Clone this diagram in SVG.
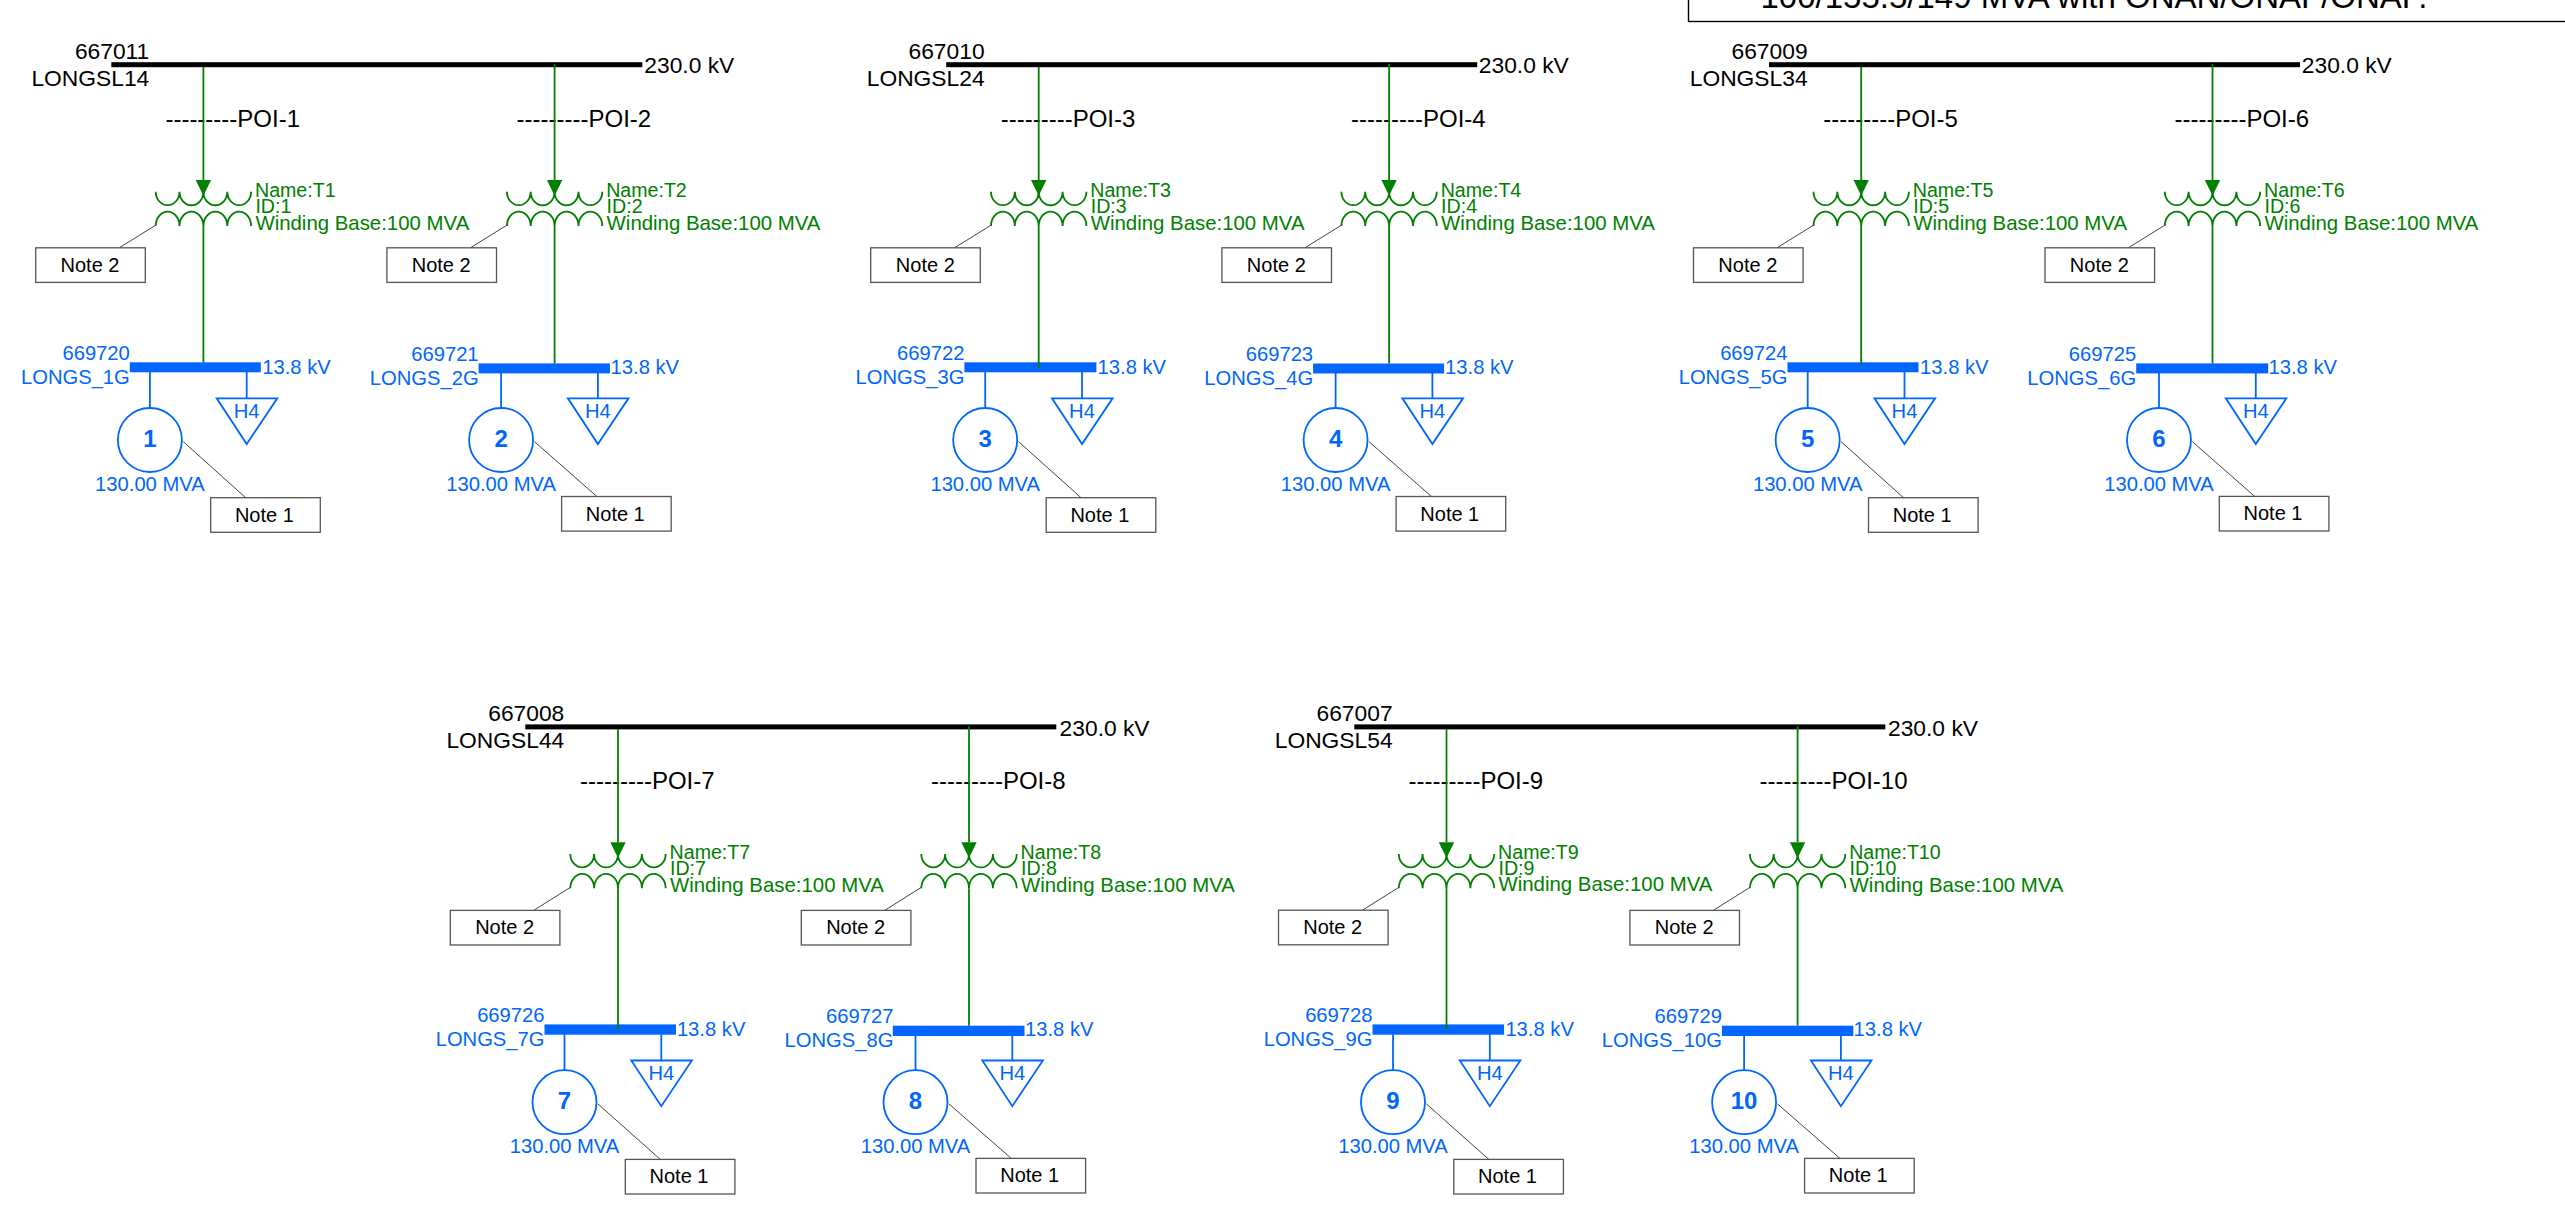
<svg xmlns="http://www.w3.org/2000/svg" width="2565" height="1230" viewBox="0 0 2565 1230">
<style>
text{font-family:"Liberation Sans",Arial,sans-serif;font-size:20px}
.k{fill:#000}
.big{font-size:22.8px;fill:#000}
.poi{font-size:24px;fill:#000}
.e{text-anchor:end}
.m{text-anchor:middle}
.tg{fill:#008000;font-size:19.6px}
.tg:last-child{font-size:20.4px}
.tb{fill:#0066ff;font-size:20.2px}
.num{font-size:24px;font-weight:bold;fill:#0066ff;text-anchor:middle}
.lv{fill:#0066ff}
.note{fill:#fff;stroke:#555;stroke-width:1.3}
.wind{fill:none;stroke:#008000;stroke-width:1.8}
.gen,.load{fill:#fff;stroke:#0066ff;stroke-width:1.8}
line{fill:none}
.cg{stroke:#008000;stroke-width:1.8}
.ca{stroke:#008000;stroke-width:1.8;marker-end:url(#ah)}
.cb{stroke:#0066ff;stroke-width:1.8}
.cl{stroke:#444;stroke-width:1}
</style>
<defs>
<marker id="ah" markerUnits="userSpaceOnUse" markerWidth="16" markerHeight="16" viewBox="0 0 16 16" refX="8" refY="0" orient="auto-start-reverse" overflow="visible"><path d="M0.3 0H15.7L8 15.7Z" fill="#008000" transform="rotate(-90 8 0) translate(0,0)"/></marker>
<path id="xf" class="wind" d="M-47.7 191.7a11.9 13.5 0 0 0 23.8 0a11.9 13.5 0 0 0 23.9 0a11.9 13.5 0 0 0 23.9 0a11.9 13.5 0 0 0 23.8 0M-47.7 226a11.9 14.3 0 0 1 23.8 0a11.9 14.3 0 0 1 23.9 0a11.9 14.3 0 0 1 23.9 0a11.9 14.3 0 0 1 23.8 0"/>
<rect id="nb" class="note" width="109.6" height="34.6"/>
<polygon id="lp" class="load" points="13.3,398.3 73.9,398.3 43.3,444"/>
</defs>
<rect width="2565" height="1230" fill="#fff"/>
<g id="legend-box"><rect x="1688.5" y="-6" width="900" height="27.5" fill="#fff" stroke="#000" stroke-width="1.4"/><text class="k m" x="2094" y="7.5" style="font-size:33px">100/155.5/149 MVA with ONAN/ONAF/ONAF.</text></g>

<g id="bus-667011"><rect x="111.3" y="62.2" width="531" height="5"/><text class="big e" x="149.3" y="58.7">667011</text><text class="big e" x="149.3" y="85.5">LONGSL14</text><text class="big" x="644.3" y="73.3">230.0 kV</text></g>
<g id="bus-667010"><rect x="946.2" y="62.2" width="531" height="5"/><text class="big e" x="984.6" y="58.7">667010</text><text class="big e" x="984.6" y="85.5">LONGSL24</text><text class="big" x="1478.8" y="73.3">230.0 kV</text></g>
<g id="bus-667009"><rect x="1769" y="62.2" width="531" height="5"/><text class="big e" x="1807.6" y="58.7">667009</text><text class="big e" x="1807.6" y="85.5">LONGSL34</text><text class="big" x="2301.8" y="73.3">230.0 kV</text></g>
<g id="bus-667008"><rect x="525.3" y="724.4" width="531" height="5"/><text class="big e" x="564.3" y="720.9">667008</text><text class="big e" x="564.3" y="747.7">LONGSL44</text><text class="big" x="1059.6" y="735.5">230.0 kV</text></g>
<g id="bus-667007"><rect x="1354.3" y="724.4" width="531" height="5"/><text class="big e" x="1392.6" y="720.9">667007</text><text class="big e" x="1392.6" y="747.7">LONGSL54</text><text class="big" x="1888" y="735.5">230.0 kV</text></g>

<g id="poi-1" transform="translate(203.4,0)"><text class="poi" x="-38" y="127">---------POI-1</text></g>
<g id="T1" transform="translate(203.4,0)"><use href="#xf"/><text class="tg" x="51.6" y="196.7">Name:T1</text><text class="tg" x="52" y="213">ID:1</text><text class="tg" x="52" y="230">Winding Base:100 MVA</text></g>
<g id="note2-1" transform="translate(203.4,0)"><use href="#nb" x="-167.7" y="247.8"/><text class="k m" x="-113.4" y="271.7">Note 2</text></g>
<g id="bus-669720" transform="translate(203.4,0)"><rect class="lv" x="-73.6" y="362.3" width="131" height="10"/><text class="tb e" x="-73.6" y="360">669720</text><text class="tb e" x="-73.6" y="384">LONGS_1G</text><text class="tb" x="58.9" y="374.3">13.8 kV</text></g>
<g id="gen-1" transform="translate(203.4,0)"><circle class="gen" cx="-53.5" cy="440" r="32"/><text class="num" x="-53.5" y="447">1</text><text class="tb m" x="-53.5" y="490.7">130.00 MVA</text></g>
<g id="load-1" transform="translate(203.4,0)"><use href="#lp"/><text class="tb m" x="43.3" y="417.7">H4</text></g>
<g id="note1-1" transform="translate(203.4,0)"><use href="#nb" x="7.3" y="497.7"/><text class="k m" x="61" y="521.7">Note 1</text></g>

<g id="poi-2" transform="translate(554.6,0)"><text class="poi" x="-38" y="127">---------POI-2</text></g>
<g id="T2" transform="translate(554.6,0)"><use href="#xf"/><text class="tg" x="51.6" y="196.7">Name:T2</text><text class="tg" x="52" y="213">ID:2</text><text class="tg" x="52" y="230">Winding Base:100 MVA</text></g>
<g id="note2-2" transform="translate(554.6,0)"><use href="#nb" x="-167.7" y="247.8"/><text class="k m" x="-113.4" y="271.7">Note 2</text></g>
<g id="bus-669721" transform="translate(554.6,0)"><rect class="lv" x="-76" y="363.4" width="131.3" height="10"/><text class="tb e" x="-76" y="361">669721</text><text class="tb e" x="-76" y="385">LONGS_2G</text><text class="tb" x="56" y="374.3">13.8 kV</text></g>
<g id="gen-2" transform="translate(554.6,0)"><circle class="gen" cx="-53.5" cy="440" r="32"/><text class="num" x="-53.5" y="447">2</text><text class="tb m" x="-53.5" y="490.7">130.00 MVA</text></g>
<g id="load-2" transform="translate(554.6,0)"><use href="#lp"/><text class="tb m" x="43.3" y="417.7">H4</text></g>
<g id="note1-2" transform="translate(554.6,0)"><use href="#nb" x="7" y="496.5"/><text class="k m" x="60.7" y="520.5">Note 1</text></g>

<g id="poi-3" transform="translate(1038.7,0)"><text class="poi" x="-38" y="127">---------POI-3</text></g>
<g id="T3" transform="translate(1038.7,0)"><use href="#xf"/><text class="tg" x="51.6" y="196.7">Name:T3</text><text class="tg" x="52" y="213">ID:3</text><text class="tg" x="52" y="230">Winding Base:100 MVA</text></g>
<g id="note2-3" transform="translate(1038.7,0)"><use href="#nb" x="-168" y="247.8"/><text class="k m" x="-113.4" y="271.7">Note 2</text></g>
<g id="bus-669722" transform="translate(1038.7,0)"><rect class="lv" x="-74.3" y="362.3" width="132" height="10"/><text class="tb e" x="-74.3" y="360">669722</text><text class="tb e" x="-74.3" y="384">LONGS_3G</text><text class="tb" x="58.9" y="374.3">13.8 kV</text></g>
<g id="gen-3" transform="translate(1038.7,0)"><circle class="gen" cx="-53.5" cy="440" r="32"/><text class="num" x="-53.5" y="447">3</text><text class="tb m" x="-53.5" y="490.7">130.00 MVA</text></g>
<g id="load-3" transform="translate(1038.7,0)"><use href="#lp"/><text class="tb m" x="43.3" y="417.7">H4</text></g>
<g id="note1-3" transform="translate(1038.7,0)"><use href="#nb" x="7.5" y="497.7"/><text class="k m" x="61.2" y="521.7">Note 1</text></g>

<g id="poi-4" transform="translate(1389.1,0)"><text class="poi" x="-38" y="127">---------POI-4</text></g>
<g id="T4" transform="translate(1389.1,0)"><use href="#xf"/><text class="tg" x="51.6" y="196.7">Name:T4</text><text class="tg" x="52" y="213">ID:4</text><text class="tg" x="52" y="230">Winding Base:100 MVA</text></g>
<g id="note2-4" transform="translate(1389.1,0)"><use href="#nb" x="-167.2" y="247.8"/><text class="k m" x="-112.8" y="271.7">Note 2</text></g>
<g id="bus-669723" transform="translate(1389.1,0)"><rect class="lv" x="-76" y="363.5" width="131" height="10"/><text class="tb e" x="-76" y="361">669723</text><text class="tb e" x="-76" y="385">LONGS_4G</text><text class="tb" x="56" y="374.3">13.8 kV</text></g>
<g id="gen-4" transform="translate(1389.1,0)"><circle class="gen" cx="-53.5" cy="440" r="32"/><text class="num" x="-53.5" y="447">4</text><text class="tb m" x="-53.5" y="490.7">130.00 MVA</text></g>
<g id="load-4" transform="translate(1389.1,0)"><use href="#lp"/><text class="tb m" x="43.3" y="417.7">H4</text></g>
<g id="note1-4" transform="translate(1389.1,0)"><use href="#nb" x="7" y="496.5"/><text class="k m" x="60.7" y="520.5">Note 1</text></g>

<g id="poi-5" transform="translate(1861.2,0)"><text class="poi" x="-38" y="127">---------POI-5</text></g>
<g id="T5" transform="translate(1861.2,0)"><use href="#xf"/><text class="tg" x="51.6" y="196.7">Name:T5</text><text class="tg" x="52" y="213">ID:5</text><text class="tg" x="52" y="230">Winding Base:100 MVA</text></g>
<g id="note2-5" transform="translate(1861.2,0)"><use href="#nb" x="-167.7" y="247.8"/><text class="k m" x="-113.4" y="271.7">Note 2</text></g>
<g id="bus-669724" transform="translate(1861.2,0)"><rect class="lv" x="-73.7" y="362.3" width="131" height="10"/><text class="tb e" x="-73.7" y="360">669724</text><text class="tb e" x="-73.7" y="384">LONGS_5G</text><text class="tb" x="58.9" y="374.3">13.8 kV</text></g>
<g id="gen-5" transform="translate(1861.2,0)"><circle class="gen" cx="-53.5" cy="440" r="32"/><text class="num" x="-53.5" y="447">5</text><text class="tb m" x="-53.5" y="490.7">130.00 MVA</text></g>
<g id="load-5" transform="translate(1861.2,0)"><use href="#lp"/><text class="tb m" x="43.3" y="417.7">H4</text></g>
<g id="note1-5" transform="translate(1861.2,0)"><use href="#nb" x="7.3" y="497.7"/><text class="k m" x="61" y="521.7">Note 1</text></g>

<g id="poi-6" transform="translate(2212.5,0)"><text class="poi" x="-38" y="127">---------POI-6</text></g>
<g id="T6" transform="translate(2212.5,0)"><use href="#xf"/><text class="tg" x="51.6" y="196.7">Name:T6</text><text class="tg" x="52" y="213">ID:6</text><text class="tg" x="52" y="230">Winding Base:100 MVA</text></g>
<g id="note2-6" transform="translate(2212.5,0)"><use href="#nb" x="-167.5" y="247.8"/><text class="k m" x="-113.2" y="271.7">Note 2</text></g>
<g id="bus-669725" transform="translate(2212.5,0)"><rect class="lv" x="-76.3" y="363.4" width="132" height="10"/><text class="tb e" x="-76.3" y="361">669725</text><text class="tb e" x="-76.3" y="385">LONGS_6G</text><text class="tb" x="56" y="374.3">13.8 kV</text></g>
<g id="gen-6" transform="translate(2212.5,0)"><circle class="gen" cx="-53.5" cy="440" r="32"/><text class="num" x="-53.5" y="447">6</text><text class="tb m" x="-53.5" y="490.7">130.00 MVA</text></g>
<g id="load-6" transform="translate(2212.5,0)"><use href="#lp"/><text class="tb m" x="43.3" y="417.7">H4</text></g>
<g id="note1-6" transform="translate(2212.5,0)"><use href="#nb" x="6.8" y="496.4"/><text class="k m" x="60.5" y="520.4">Note 1</text></g>

<g id="poi-7" transform="translate(618,662.2)"><text class="poi" x="-38" y="127">---------POI-7</text></g>
<g id="T7" transform="translate(618,662.2)"><use href="#xf"/><text class="tg" x="51.6" y="196.7">Name:T7</text><text class="tg" x="52" y="213">ID:7</text><text class="tg" x="52" y="230">Winding Base:100 MVA</text></g>
<g id="note2-7" transform="translate(618,662.2)"><use href="#nb" x="-167.7" y="248.2"/><text class="k m" x="-113.4" y="272">Note 2</text></g>
<g id="bus-669726" transform="translate(618,662.2)"><rect class="lv" x="-73.5" y="362.2" width="131.5" height="10.3"/><text class="tb e" x="-73.5" y="360">669726</text><text class="tb e" x="-73.5" y="384">LONGS_7G</text><text class="tb" x="58.9" y="374.3">13.8 kV</text></g>
<g id="gen-7" transform="translate(618,662.2)"><circle class="gen" cx="-53.5" cy="440" r="32"/><text class="num" x="-53.5" y="447">7</text><text class="tb m" x="-53.5" y="490.7">130.00 MVA</text></g>
<g id="load-7" transform="translate(618,662.2)"><use href="#lp"/><text class="tb m" x="43.3" y="417.7">H4</text></g>
<g id="note1-7" transform="translate(618,662.2)"><use href="#nb" x="7.3" y="497.2"/><text class="k m" x="61" y="521.3">Note 1</text></g>

<g id="poi-8" transform="translate(969,662.2)"><text class="poi" x="-38" y="127">---------POI-8</text></g>
<g id="T8" transform="translate(969,662.2)"><use href="#xf"/><text class="tg" x="51.6" y="196.7">Name:T8</text><text class="tg" x="52" y="213">ID:8</text><text class="tg" x="52" y="230">Winding Base:100 MVA</text></g>
<g id="note2-8" transform="translate(969,662.2)"><use href="#nb" x="-167.7" y="248.2"/><text class="k m" x="-113.4" y="272">Note 2</text></g>
<g id="bus-669727" transform="translate(969,662.2)"><rect class="lv" x="-76.2" y="363.5" width="131.7" height="10.3"/><text class="tb e" x="-75.6" y="361">669727</text><text class="tb e" x="-75.6" y="385">LONGS_8G</text><text class="tb" x="56" y="374.3">13.8 kV</text></g>
<g id="gen-8" transform="translate(969,662.2)"><circle class="gen" cx="-53.5" cy="440" r="32"/><text class="num" x="-53.5" y="447">8</text><text class="tb m" x="-53.5" y="490.7">130.00 MVA</text></g>
<g id="load-8" transform="translate(969,662.2)"><use href="#lp"/><text class="tb m" x="43.3" y="417.7">H4</text></g>
<g id="note1-8" transform="translate(969,662.2)"><use href="#nb" x="7" y="496.2"/><text class="k m" x="60.7" y="520.2">Note 1</text></g>

<g id="poi-9" transform="translate(1446.5,662.2)"><text class="poi" x="-38" y="127">---------POI-9</text></g>
<g id="T9" transform="translate(1446.5,662.2)"><use href="#xf"/><text class="tg" x="51.6" y="196.7">Name:T9</text><text class="tg" x="52" y="213">ID:9</text><text class="tg" x="52" y="229.3">Winding Base:100 MVA</text></g>
<g id="note2-9" transform="translate(1446.5,662.2)"><use href="#nb" x="-168" y="248"/><text class="k m" x="-113.8" y="272">Note 2</text></g>
<g id="bus-669728" transform="translate(1446.5,662.2)"><rect class="lv" x="-74" y="362.2" width="131.5" height="10.3"/><text class="tb e" x="-74" y="360">669728</text><text class="tb e" x="-74" y="384">LONGS_9G</text><text class="tb" x="58.9" y="374.3">13.8 kV</text></g>
<g id="gen-9" transform="translate(1446.5,662.2)"><circle class="gen" cx="-53.5" cy="440" r="32"/><text class="num" x="-53.5" y="447">9</text><text class="tb m" x="-53.5" y="490.7">130.00 MVA</text></g>
<g id="load-9" transform="translate(1446.5,662.2)"><use href="#lp"/><text class="tb m" x="43.3" y="417.7">H4</text></g>
<g id="note1-9" transform="translate(1446.5,662.2)"><use href="#nb" x="7.3" y="497.2"/><text class="k m" x="61" y="521.3">Note 1</text></g>

<g id="poi-10" transform="translate(1797.6,662.2)"><text class="poi" x="-38" y="127">---------POI-10</text></g>
<g id="T10" transform="translate(1797.6,662.2)"><use href="#xf"/><text class="tg" x="51.6" y="196.7">Name:T10</text><text class="tg" x="52" y="213">ID:10</text><text class="tg" x="52" y="230">Winding Base:100 MVA</text></g>
<g id="note2-10" transform="translate(1797.6,662.2)"><use href="#nb" x="-167.7" y="248.2"/><text class="k m" x="-113.4" y="272">Note 2</text></g>
<g id="bus-669729" transform="translate(1797.6,662.2)"><rect class="lv" x="-75.7" y="363.5" width="131.4" height="10.3"/><text class="tb e" x="-75.7" y="361">669729</text><text class="tb e" x="-75.7" y="385">LONGS_10G</text><text class="tb" x="56" y="374.3">13.8 kV</text></g>
<g id="gen-10" transform="translate(1797.6,662.2)"><circle class="gen" cx="-53.5" cy="440" r="32"/><text class="num" x="-53.5" y="447">10</text><text class="tb m" x="-53.5" y="490.7">130.00 MVA</text></g>
<g id="load-10" transform="translate(1797.6,662.2)"><use href="#lp"/><text class="tb m" x="43.3" y="417.7">H4</text></g>
<g id="note1-10" transform="translate(1797.6,662.2)"><use href="#nb" x="7" y="496.2"/><text class="k m" x="60.7" y="520.2">Note 1</text></g>

<g id="connectors">
<g transform="translate(203.4,0)"><line class="ca" y1="67" y2="180"/><line class="cg" y1="226" y2="362.5"/><line class="cb" x1="-53.5" x2="-53.5" y1="372" y2="408"/><line class="cb" x1="43.3" x2="43.3" y1="372" y2="398.3"/><line class="cl" x1="-47.4" y1="225" x2="-84" y2="247.7"/><line class="cl" x1="-20.1" y1="441.7" x2="42.3" y2="497.7"/></g>
<g transform="translate(554.6,0)"><line class="ca" y1="64" y2="180"/><line class="cg" y1="226" y2="363.5"/><line class="cb" x1="-53.5" x2="-53.5" y1="373" y2="408"/><line class="cb" x1="43.3" x2="43.3" y1="373" y2="398.3"/><line class="cl" x1="-47.4" y1="225" x2="-84" y2="247.7"/><line class="cl" x1="-20.1" y1="441.7" x2="42.3" y2="496.5"/></g>
<g transform="translate(1038.7,0)"><line class="ca" y1="67" y2="180"/><line class="cg" y1="226" y2="368"/><line class="cb" x1="-53.5" x2="-53.5" y1="372" y2="408"/><line class="cb" x1="43.3" x2="43.3" y1="372" y2="398.3"/><line class="cl" x1="-47.4" y1="225" x2="-84" y2="247.7"/><line class="cl" x1="-20.1" y1="441.7" x2="42.3" y2="497.7"/></g>
<g transform="translate(1389.1,0)"><line class="ca" y1="64" y2="180"/><line class="cg" y1="226" y2="363.5"/><line class="cb" x1="-53.5" x2="-53.5" y1="373" y2="408"/><line class="cb" x1="43.3" x2="43.3" y1="373" y2="398.3"/><line class="cl" x1="-47.4" y1="225" x2="-84" y2="247.7"/><line class="cl" x1="-20.1" y1="441.7" x2="42.3" y2="496.5"/></g>
<g transform="translate(1861.2,0)"><line class="ca" y1="67" y2="180"/><line class="cg" y1="226" y2="365"/><line class="cb" x1="-53.5" x2="-53.5" y1="372" y2="408"/><line class="cb" x1="43.3" x2="43.3" y1="372" y2="398.3"/><line class="cl" x1="-47.4" y1="225" x2="-84" y2="247.7"/><line class="cl" x1="-20.1" y1="441.7" x2="42.3" y2="497.7"/></g>
<g transform="translate(2212.5,0)"><line class="ca" y1="64" y2="180"/><line class="cg" y1="226" y2="363.5"/><line class="cb" x1="-53.5" x2="-53.5" y1="373" y2="408"/><line class="cb" x1="43.3" x2="43.3" y1="373" y2="398.3"/><line class="cl" x1="-47.4" y1="225" x2="-84" y2="247.7"/><line class="cl" x1="-20.1" y1="441.7" x2="42.3" y2="496.5"/></g>
<g transform="translate(618,662.2)"><line class="ca" y1="67" y2="180"/><line class="cg" y1="226" y2="367"/><line class="cb" x1="-53.5" x2="-53.5" y1="372" y2="408"/><line class="cb" x1="43.3" x2="43.3" y1="372" y2="398.3"/><line class="cl" x1="-47.4" y1="225" x2="-84" y2="248"/><line class="cl" x1="-20.1" y1="441.7" x2="42.3" y2="497.2"/></g>
<g transform="translate(969,662.2)"><line class="ca" y1="64" y2="180"/><line class="cg" y1="226" y2="363.5"/><line class="cb" x1="-53.5" x2="-53.5" y1="373" y2="408"/><line class="cb" x1="43.3" x2="43.3" y1="373" y2="398.3"/><line class="cl" x1="-47.4" y1="225" x2="-84" y2="248"/><line class="cl" x1="-20.1" y1="441.7" x2="42.3" y2="496.2"/></g>
<g transform="translate(1446.5,662.2)"><line class="ca" y1="67" y2="180"/><line class="cg" y1="226" y2="367"/><line class="cb" x1="-53.5" x2="-53.5" y1="372" y2="408"/><line class="cb" x1="43.3" x2="43.3" y1="372" y2="398.3"/><line class="cl" x1="-47.4" y1="225" x2="-84" y2="248"/><line class="cl" x1="-20.1" y1="441.7" x2="42.3" y2="497.2"/></g>
<g transform="translate(1797.6,662.2)"><line class="ca" y1="64" y2="180"/><line class="cg" y1="226" y2="363.5"/><line class="cb" x1="-53.5" x2="-53.5" y1="373" y2="408"/><line class="cb" x1="43.3" x2="43.3" y1="373" y2="398.3"/><line class="cl" x1="-47.4" y1="225" x2="-84" y2="248"/><line class="cl" x1="-20.1" y1="441.7" x2="42.3" y2="496.2"/></g>
</g>
</svg>
